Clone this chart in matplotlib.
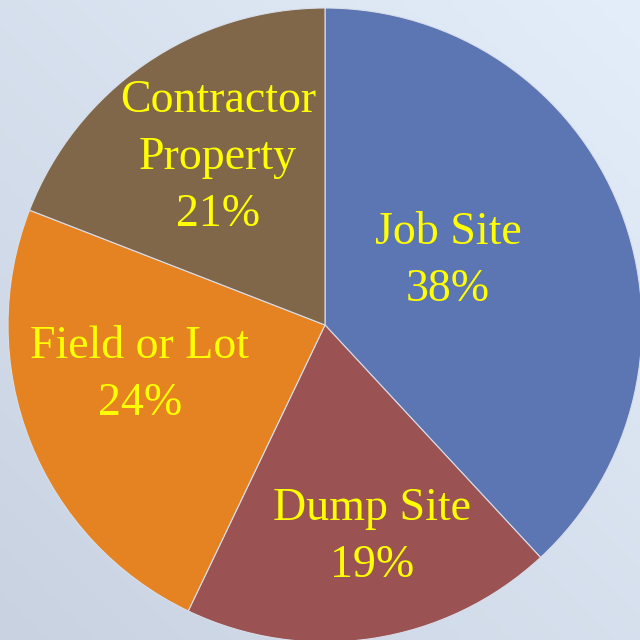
import numpy as np
import matplotlib.pyplot as plt

# slice shares as drawn (printed percentages kept separately, they sum to 102)
categories = ["Job Site", "Dump Site", "Field or Lot", "Contractor\nProperty"]
shares = [38.1, 19.0, 23.8, 19.1]
pct_labels = ["38%", "19%", "24%", "21%"]
colors = ["#5C75B3", "#9B5252", "#E58322", "#81674A"]

# label centres in pixels (image coords, y down)
label_pos = [(448, 261), (372, 537), (140, 375), (218, 158)]

fig = plt.figure(figsize=(6.4, 6.4), dpi=100)
ax = fig.add_axes([0, 0, 1, 1])

# background gradient: greyer bottom-left, lighter blue top-right
yy, xx = np.mgrid[0:1:200j, 0:1:200j]
t = np.clip((xx + (1 - yy)) / 2, 0, 1)
c0 = np.array([0xC9, 0xD2, 0xE1]) / 255
c1 = np.array([0xE4, 0xEE, 0xFA]) / 255
grad = c0[None, None, :] * (1 - t[..., None]) + c1[None, None, :] * t[..., None]
ax.imshow(grad, extent=(0, 640, 640, 0), aspect="auto", zorder=0)

# y axis points down, so counterclockwise from -90 reads clockwise from the top
wedges, _ = ax.pie(
    shares,
    colors=colors,
    startangle=-90,
    counterclock=True,
    center=(325, 325),
    radius=317,
    frame=True,
    wedgeprops=dict(edgecolor="#D8DEEA", linewidth=0.8),
)
for w in wedges:
    w.set_zorder(1)

ax.set_xlim(0, 640)
ax.set_ylim(640, 0)
ax.axis("off")

for cat, pct, (x, y) in zip(categories, pct_labels, label_pos):
    ax.text(x, y, f"{cat}\n{pct}", ha="center", va="center", color="#FFFF00",
            fontsize=33, family="Liberation Serif", linespacing=1.45, zorder=3)

fig.savefig("out.png", dpi=100)
